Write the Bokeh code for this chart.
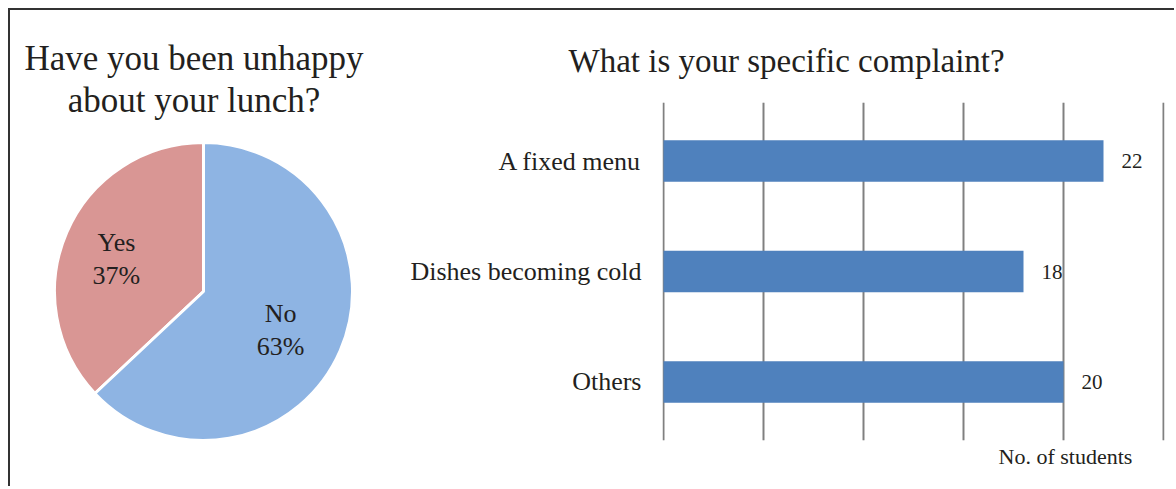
import math
from bokeh.plotting import figure
from bokeh.layouts import row
from bokeh.models import (Range1d, FactorRange, FixedTicker, Label, Title,
                          ColumnDataSource, Grid)
from bokeh.core.properties import value
from bokeh.embed import file_html
from bokeh.resources import INLINE

FONT = "Liberation Serif"
TEXT = "#231f20"

# ---- data ----
pie_categories = ["Yes", "No"]
pie_percent = [37, 63]
pie_colors = ["#D99694", "#8EB4E3"]

bar_categories = ["A fixed menu", "Dishes becoming cold", "Others"]
bar_values = [22, 18, 20]
bar_ticks = [0, 5, 10, 15, 20, 25]

left_title = ["Have you been unhappy", "about your lunch?"]
right_title = "What is your specific complaint?"
x_label = "No. of students"

# ---- pie ----
R = 149
starts, ends = [], []
a = math.pi / 2
for v in pie_percent:
    starts.append(a)
    a += v / 100 * 2 * math.pi
    ends.append(a)
mids = [(s + e) / 2 for s, e in zip(starts, ends)]
pie_src = ColumnDataSource(dict(
    start=starts, end=ends, color=pie_colors,
    lx=[0.6 * R * math.cos(m) for m in mids],
    ly=[0.6 * R * math.sin(m) for m in mids],
    label=[f"{c}\n{v}%" for c, v in zip(pie_categories, pie_percent)],
))

p1 = figure(width=390, height=476, x_range=Range1d(-193, 197), y_range=Range1d(-195, 281),
            output_backend="svg", toolbar_location=None, min_border=0,
            x_axis_location=None, y_axis_location=None)
p1.frame_align = False
p1.grid.visible = False
p1.outline_line_color = None
p1.wedge(x=0, y=0, radius=R, start_angle="start", end_angle="end", fill_color="color",
         line_color="white", line_width=3, source=pie_src)
p1.text(x="lx", y="ly", text="label", source=pie_src, text_align="center",
        text_baseline="middle", text_font=value(FONT), text_font_size="26px",
        text_color=TEXT, text_line_height=1.15, x_offset=-5, y_offset=3)
for i, t in enumerate(left_title):
    p1.add_layout(Label(x=-9.5, y=233.5 - 42.5 * i, text=t, text_align="center",
                        text_baseline="middle", text_font=FONT,
                        text_font_size="35px", text_color=TEXT))

# ---- bars ----
bar_src = ColumnDataSource(dict(cat=bar_categories, val=bar_values,
                                label=[str(v) for v in bar_values]))
p2 = figure(width=774, height=476, x_range=Range1d(-0.05, 25.05),
            y_range=FactorRange(factors=bar_categories[::-1], range_padding=0.02),
            output_backend="svg", toolbar_location=None,
            min_border_left=262, min_border_right=10, min_border_top=92,
            min_border_bottom=46, x_axis_location=None, title=right_title)
p2.frame_align = False
p2.outline_line_color = None
p2.ygrid.visible = False
p2.add_layout(Grid(dimension=0, ticker=FixedTicker(ticks=bar_ticks),
                   grid_line_color="#808080", grid_line_width=2))
p2.title.align = "left"
p2.title.offset = -94
p2.title.text_font = FONT
p2.title.text_font_size = "33px"
p2.title.text_font_style = "normal"
p2.title.text_color = TEXT
p2.title.standoff = 48

p2.hbar(y="cat", left=0, right="val", height=0.377, fill_color="#4F81BD",
        line_color=None, source=bar_src)
p2.text(x="val", y="cat", text="label", source=bar_src, x_offset=18,
        text_align="left", text_baseline="middle", text_font=value(FONT),
        text_font_size="21px", text_color=TEXT)

yax = p2.yaxis[0]
yax.axis_line_color = None
yax.major_tick_line_color = None
yax.minor_tick_line_color = None
yax.major_tick_out = 0
yax.major_tick_in = 0
yax.major_label_standoff = 21
yax.major_label_text_font = FONT
yax.major_label_text_font_size = "26px"
yax.major_label_text_color = TEXT

p2.add_layout(Title(text=x_label, align="left", offset=336, text_font=FONT,
                    text_font_size="22px", text_font_style="normal",
                    text_color=TEXT, standoff=3), "below")

layout = row(p1, p2, margin=(8, 0, 0, 8),
             styles={"border-left": "2px solid #333333",
                     "border-top": "2px solid #333333"})

open("out.html", "w").write(file_html(layout, INLINE))
